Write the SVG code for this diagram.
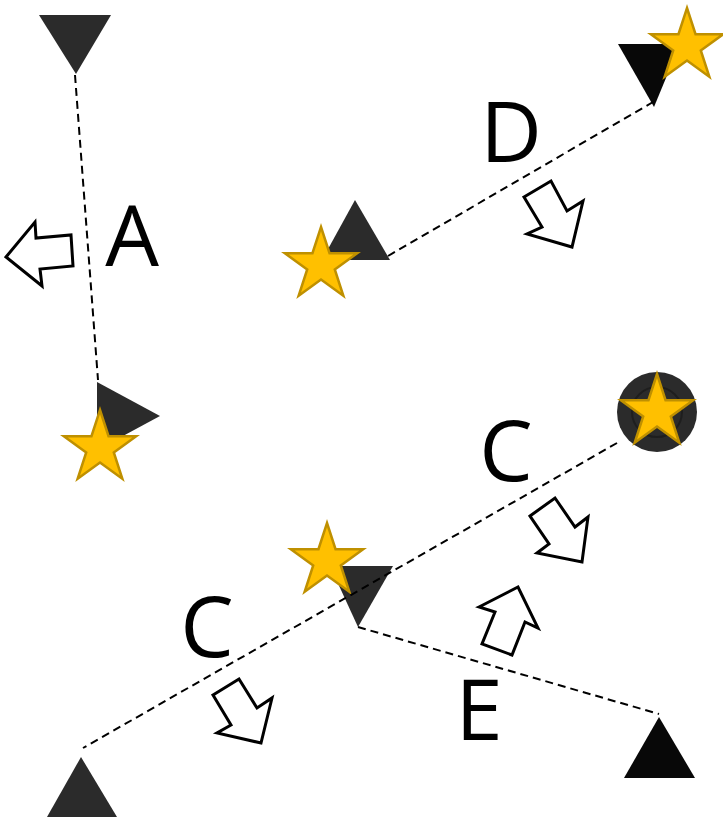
<svg xmlns="http://www.w3.org/2000/svg" width="723" height="818" viewBox="0 0 723 818">
<defs>
<style>
.tri{fill:#2b2b2b}
.tri-black{fill:#080808}
.star{fill:#FFC000;stroke:#BF9000;stroke-width:2.5;stroke-linejoin:miter}
.conn{fill:none;stroke:#000;stroke-width:2;stroke-dasharray:8 5}
.arrow{fill:#fff;stroke:#000;stroke-width:3;stroke-linejoin:miter}
.lbl{font-family:"Open Sans","Noto Sans","Liberation Sans",sans-serif;font-size:85px;fill:#000;text-anchor:middle}
</style>
<polygon id="starShape" points="0,-38 8.53,-11.74 36.14,-11.74 13.8,4.49 22.34,30.74 0,14.52 -22.34,30.74 -13.8,4.49 -36.14,-11.74 -8.53,-11.74"/>
</defs>
<rect width="723" height="818" fill="#fff"/>

<g id="node-top-left">
<polygon class="tri" points="39,15 111,15 76,74"/>
</g>

<g id="node-left-mid">
<polygon class="tri" points="97,382 160,416 97,450"/>
<use href="#starShape" class="star" transform="translate(100,448)"/>
</g>

<g id="node-d-left">
<polygon class="tri" points="355,200 390,260 322,260"/>
<use href="#starShape" class="star" transform="translate(321,265)"/>
</g>

<g id="node-d-right">
<polygon class="tri-black" points="618,44 680,44 654,107"/>
<use href="#starShape" class="star" transform="translate(687,46)"/>
</g>

<g id="node-circle">
<circle cx="657" cy="412" r="40" fill="#2b2b2b"/>
<circle cx="657" cy="412" r="25" fill="none" stroke="#1e1e1e" stroke-width="2"/>
<use href="#starShape" class="star" transform="translate(657,412)"/>
</g>

<g id="node-middle">
<polygon class="tri" points="330,566 393,566 358,627"/>
<use href="#starShape" class="star" transform="translate(327,561)"/>
</g>

<g id="node-bottom-left">
<polygon class="tri" points="81,757 117,817 47,817"/>
</g>

<g id="node-bottom-right">
<polygon class="tri-black" points="659,717 695,778 624,778"/>
</g>

<g id="connectors">
<line class="conn" x1="75" y1="75" x2="98" y2="380"/>
<line class="conn" x1="388" y1="256" x2="653" y2="102"/>
<line class="conn" x1="617" y1="443" x2="83" y2="748"/>
<line class="conn" x1="358" y1="627" x2="659" y2="714"/>
</g>

<g id="arrows">
<polygon class="arrow" points="6,257 35,222 36,238 71,235 73,266 40,269 42,286"/>
<polygon class="arrow" points="524,197 551,181 567,211 583,201 572,247 527,234 542,227"/>
<polygon class="arrow" points="530,516 555,498 575,527 588,517 582,562 537,553 549,544"/>
<polygon class="arrow" points="479,607 518,587 538,628 525,622 512,655 482,644 495,612"/>
<polygon class="arrow" points="213,695 239,679 257,708 272,698 261,743 217,733 231,725"/>
</g>

<g id="labels">
<text class="lbl" x="132" y="266">A</text>
<text class="lbl" x="511" y="162">D</text>
<text class="lbl" x="506" y="481">C</text>
<text class="lbl" x="207" y="657">C</text>
<text class="lbl" x="479" y="740">E</text>
</g>
</svg>
